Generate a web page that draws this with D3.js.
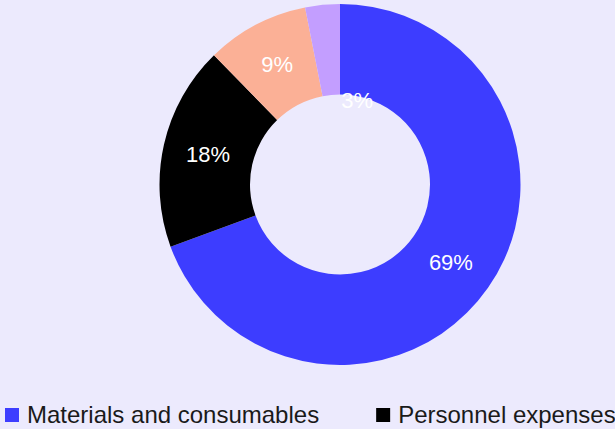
<!DOCTYPE html>
<html>
<head>
<meta charset="utf-8">
<script src="https://cdn.jsdelivr.net/npm/d3@7/dist/d3.min.js"></script>
<style>
html,body{margin:0;padding:0;background:#ECEAFD;}
svg{display:block;font-family:"Liberation Sans",Arial,Helvetica,sans-serif;}
</style>
</head>
<body>
<svg id="chart" width="615" height="429"></svg>
<script>
const categories = ["Materials and consumables", "Personnel expenses", "Depreciation", "Other expenses"];
const values = [69.4, 18.3, 9.2, 3.1];
const labels = ["69%", "18%", "9%", "3%"];
const colors = ["#3D3DFF", "#000000", "#FBB096", "#C39EFF"];

const W = 615, H = 429;
const cx = 340, cy = 184.5, outerR = 180.5, innerR = 90;

const svg = d3.select("#chart");
svg.append("rect").attr("width", W).attr("height", H).attr("fill", "#ECEAFD");

const pie = d3.pie().sort(null).value(d => d)(values);
const arc = d3.arc().innerRadius(innerR).outerRadius(outerR);
const g = svg.append("g").attr("transform", `translate(${cx},${cy})`);

g.selectAll("path").data(pie).enter().append("path")
  .attr("d", arc)
  .attr("fill", (d, i) => colors[i]);

// labels: small slices get pushed toward the inner edge (as in the reference)
g.selectAll("text.lbl").data(pie).enter().append("text")
  .attr("class", "lbl")
  .attr("transform", (d, i) => {
    let p;
    if ((d.endAngle - d.startAngle) < 0.25) {
      const a = d.endAngle + 0.2;
      p = [Math.sin(a) * (innerR - 4), -Math.cos(a) * (innerR - 4)];
    } else {
      p = arc.centroid(d);
    }
    return `translate(${p[0]},${p[1]})`;
  })
  .attr("text-anchor", "middle")
  .attr("dy", "0.35em")
  .attr("fill", "#ffffff")
  .attr("font-size", 22)
  .text((d, i) => labels[i]);

// legend (wraps; only the first row fits inside the frame)
const legend = svg.append("g");
let lx = 5, ly = 423;
const rowH = 30;
categories.forEach((c, i) => {
  const item = legend.append("g");
  item.append("rect").attr("x", 0).attr("y", -15).attr("width", 14).attr("height", 14).attr("fill", colors[i]);
  const t = item.append("text").attr("x", 22).attr("y", 0).attr("font-size", 24).attr("fill", "#1a1a1a").text(c);
  const w = 22 + t.node().getComputedTextLength();
  if (lx + w > W + 2 && lx > 5) { lx = 5; ly += rowH; }
  item.attr("transform", `translate(${lx},${ly})`);
  if (ly > H) item.remove();
  lx += w + 57;
});
</script>
</body>
</html>
